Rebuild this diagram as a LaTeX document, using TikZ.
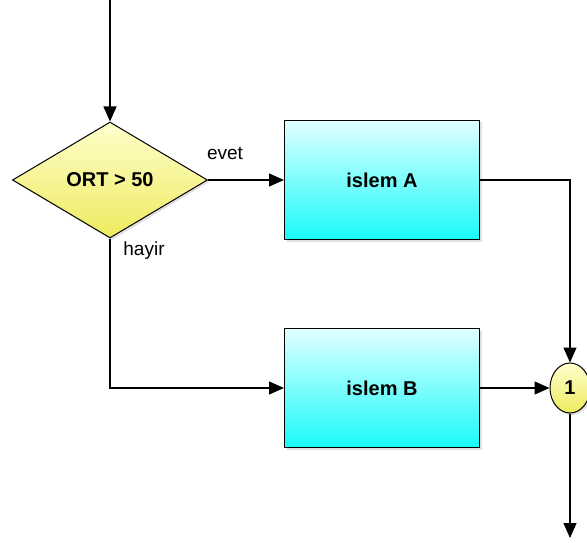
\documentclass[tikz,border=0pt]{standalone}
\usepackage{fontspec}
\setmainfont{Liberation Sans}
\usepackage{tikz}
\usetikzlibrary{shapes.geometric, arrows.meta, positioning, shadows}
\definecolor{condtop}{RGB}{255, 255, 205}
\definecolor{condbot}{RGB}{238, 235, 95}
\definecolor{proctop}{RGB}{225, 255, 255}
\definecolor{procbot}{RGB}{25, 250, 250}

\begin{document}
\begin{tikzpicture}[
  x=1pt, y=-1pt,
  cond/.style={draw, diamond, minimum width=195pt, minimum height=116pt, inner sep=0pt, top color=condtop, bottom color=condbot, font=\fontsize{20}{24}\selectfont\bfseries, line width=1pt, drop shadow={shadow xshift=2pt, shadow yshift=-2pt, opacity=0.25}},
  proc/.style={draw, rectangle, minimum width=195pt, minimum height=119pt, top color=proctop, bottom color=procbot, font=\fontsize{20}{24}\selectfont\bfseries, line width=1pt, drop shadow={shadow xshift=2pt, shadow yshift=-2pt, opacity=0.25}},
  joint/.style={draw, ellipse, minimum width=40pt, minimum height=50pt, inner sep=0pt, top color=condtop, bottom color=condbot, font=\fontsize{20}{24}\selectfont\bfseries, line width=1pt, drop shadow={shadow xshift=2pt, shadow yshift=-2pt, opacity=0.25}},
  lbl/.style={font=\fontsize{19}{22}\selectfont},
  arr/.style={-{Triangle[length=15pt, width=13pt]}, line width=1.3pt}
]
  \useasboundingbox (0,0) rectangle (587,543);

  % Blocks
  \node[cond] (ort) at (110,180) {ORT > 50};
  \node[proc] (islemA) at (382,180) {islem A};
  \node[proc] (islemB) at (382,388) {islem B};
  \node[joint] (bir) at (570,388) {1};

  \coordinate (giris) at (110,0);
  \coordinate (cikis) at (570,538);

  % Arrows
  \draw[arr] (giris) -- (ort.north);
  \draw[arr] (ort.east) -- (islemA.west);
  \draw[arr] (ort.south) |- (islemB.west);
  \draw[arr] (islemA.east) -| (bir.north);
  \draw[arr] (islemB.east) -- (bir.west);
  \draw[arr] (bir.south) -- (cikis);

  % Labels
  \node[lbl] (evet) at (225,153) {evet};
  \node[lbl] (hayir) at (144,251) {hayir};
\end{tikzpicture}
\end{document}
